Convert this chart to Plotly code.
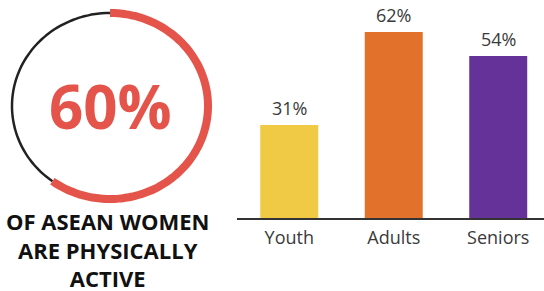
import numpy as np
import plotly.graph_objects as go

# ---- data ----
ring_value = 60  # % of ASEAN women physically active
ring_caption = ["OF ASEAN WOMEN", "ARE PHYSICALLY", "ACTIVE"]
categories = ["Youth", "Adults", "Seniors"]
values = [31, 62, 54]
bar_colors = ["#F0CA45", "#E2712B", "#65329A"]

W, H = 544, 291
FONT = "Open Sans"

fig = go.Figure()

# bars
fig.add_trace(go.Bar(
    x=categories, y=values, marker=dict(color=bar_colors, line=dict(width=0)),
    width=0.555, xaxis="x", yaxis="y", hoverinfo="skip", showlegend=False,
))
for c, v in zip(categories, values):
    fig.add_annotation(x=c, y=v, xref="x", yref="y", text=f"{v}%", showarrow=False,
                       yanchor="bottom", yshift=3,
                       font=dict(family=FONT, size=18, color="#3a3a3a"))

# ring (ellipse in cartesian subplot)
frac = ring_value / 100.0
t_red = np.linspace(0, 2 * np.pi * frac, 90)
t_blk = np.linspace(2 * np.pi * frac, 2 * np.pi, 60)
fig.add_trace(go.Scatter(x=np.sin(t_blk), y=np.cos(t_blk), mode="lines",
                         line=dict(color="#222222", width=2.5, shape="spline", simplify=False),
                         xaxis="x2", yaxis="y2", hoverinfo="skip", showlegend=False))
fig.add_trace(go.Scatter(x=np.sin(t_red), y=np.cos(t_red), mode="lines",
                         line=dict(color="#E4544A", width=8, shape="spline", simplify=False),
                         xaxis="x2", yaxis="y2", hoverinfo="skip", showlegend=False))
fig.add_annotation(x=0, y=0, xref="x2", yref="y2", text=f"<b>{ring_value}%</b>",
                   showarrow=False, xanchor="center", yanchor="middle",
                   font=dict(family=FONT, size=60, color="#E4544A"))
fig.add_annotation(x=107 / W, y=1 - 249.5 / H, xref="paper", yref="paper",
                   text="<b>" + "<br>".join(ring_caption) + "</b>", showarrow=False,
                   xanchor="center", yanchor="middle", align="center",
                   font=dict(family=FONT, size=22, color="#111111"))

# layout
y_top_units = 218 / 3.0
fig.update_layout(
    width=W, height=H, margin=dict(l=0, r=0, t=0, b=0),
    paper_bgcolor="white", plot_bgcolor="white",
    xaxis=dict(domain=[237 / W, 1], range=[-0.5, 2.438], showgrid=False, zeroline=False,
               showline=True, linecolor="#333333", linewidth=2, ticks="",
               ticklabelstandoff=2,
               tickfont=dict(family=FONT, size=18, color="#3a3a3a"), fixedrange=True),
    yaxis=dict(domain=[1 - 218 / H, 1], range=[0, y_top_units], visible=False, fixedrange=True),
    xaxis2=dict(domain=[2.2 / W, 217.8 / W], range=[-1.1, 1.1], visible=False, fixedrange=True),
    yaxis2=dict(domain=[1 - 208.3 / H, 1 - 3.7 / H], range=[-1.1, 1.1], visible=False, fixedrange=True),
)

fig.write_html("out.html", config={"displayModeBar": False},
               post_script="document.body.style.margin='0px';document.body.style.overflow='hidden';")
